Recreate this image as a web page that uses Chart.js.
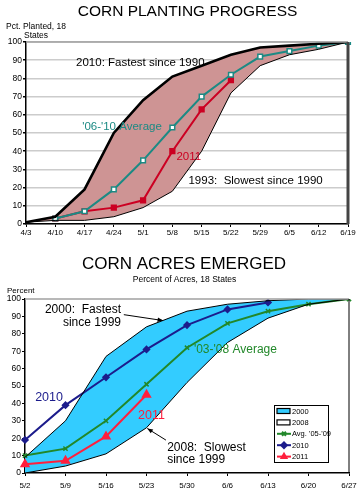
<!DOCTYPE html>
<html>
<head>
<meta charset="utf-8">
<script src="https://cdn.jsdelivr.net/npm/chart.js@4.4.1/dist/chart.umd.min.js"></script>
<style>
  html, body { margin: 0; padding: 0; background: #fff; }
  canvas { position: absolute; left: 0; }
  #planting { top: 0; }
  #emerged { top: 246px; }
</style>
</head>
<body>
<canvas id="planting" width="363" height="245"></canvas>
<canvas id="emerged" width="363" height="246"></canvas>
<script>
// Corn planting progress, pct planted, 18 states
const plantWeeks  = ['4/3', '4/10', '4/17', '4/24', '5/1', '5/8', '5/15', '5/22', '5/29', '6/5', '6/12', '6/19'];
const planted2010 = [1, 4, 19, 50, 68, 81, 87, 93, 97, 98, 99, 100];
const planted1993 = [1, 2, 2, 4, 9, 18, 40, 72, 87, 93, 96, 100];
const plantedAvg  = [null, 3, 7, 19, 35, 53, 70, 82, 92, 95, 98, 100];
const planted2011 = [null, 3, 7, 9, 13, 40, 63, 79, null, null, null, null];

// Corn acres emerged, percent of acres, 18 states
const emergeWeeks = ['5/2', '5/9', '5/16', '5/23', '5/30', '6/6', '6/13', '6/20', '6/27'];
const emerged2000 = [9, 30, 67, 84, 93, 97, 99, 100, 100];
const emerged2008 = [0, 4, 11, 26, 52, 75, 89, 97, 100];
const emergedAvg  = [10, 14, 30, 51, 72, 86, 93, 97, 100];
const emerged2010 = [19, 39, 55, 71, 85, 94, 98, null, null];
const emerged2011 = [5, 7, 21, 45, null, null, null, null, null];

const FONT = '"Liberation Sans", Arial, sans-serif';
const TEAL = '#1c8a84', RED1 = '#cc0022', PINK = '#ce9494';
const CYAN = '#33ccff', NAVY = '#1c1c8c', GREEN = '#22882a', RED2 = '#ff1f3d';

// text labels: x = category index (can be fractional), y = percent
const plantNotes = [
  { text: '2010: Fastest since 1990', x: 1.71, y: 88.5, size: 11.5, color: '#000' },
  { text: "'06-'10 Average", x: 1.92, y: 53.3, size: 11.5, color: TEAL },
  { text: '2011', x: 5.14, y: 36.8, size: 11.5, color: RED1 },
  { text: '1993:  Slowest since 1990', x: 5.55, y: 23.6, size: 11.5, color: '#000' }
];
const emergeNotes = [
  { text: '2000:  Fastest', x: 2.37, y: 93.9, size: 12, color: '#000', align: 'right' },
  { text: 'since 1999', x: 2.37, y: 86.4, size: 12, color: '#000', align: 'right' },
  { text: "'03-'08 Average", x: 4.17, y: 70.8, size: 12, color: GREEN },
  { text: '2010', x: 0.25, y: 43.1, size: 12.5, color: NAVY },
  { text: '2011', x: 2.79, y: 33.3, size: 12.5, color: RED2 },
  { text: '2008:  Slowest', x: 3.51, y: 14.8, size: 12, color: '#000' },
  { text: 'since 1999', x: 3.51, y: 7.9, size: 12, color: '#000' }
];
const emergeArrows = [
  { from: [2.44, 91], to: [3.41, 87.6] },
  { from: [3.48, 18.9], to: [3.02, 25.6] }
];

function arrow(ctx, x1, y1, x2, y2) {
  const ang = Math.atan2(y2 - y1, x2 - x1);
  ctx.beginPath();
  ctx.moveTo(x1, y1);
  ctx.lineTo(x2, y2);
  ctx.stroke();
  ctx.beginPath();
  ctx.moveTo(x2, y2);
  ctx.lineTo(x2 - 6 * Math.cos(ang - 0.4), y2 - 6 * Math.sin(ang - 0.4));
  ctx.lineTo(x2 - 6 * Math.cos(ang + 0.4), y2 - 6 * Math.sin(ang + 0.4));
  ctx.closePath();
  ctx.fill();
}

const decor = {
  id: 'decor',
  afterDraw(chart, args, o) {
    const { ctx, chartArea: a, scales: { x, y } } = chart;
    ctx.save();
    ctx.textBaseline = 'middle';
    (o.fixed || []).forEach(t => {
      ctx.font = `${t.size}px ${FONT}`;
      ctx.fillStyle = '#000';
      ctx.textAlign = t.align || 'center';
      ctx.fillText(t.text, t.px, t.py);
    });
    (o.notes || []).forEach(t => {
      ctx.font = `${t.size}px ${FONT}`;
      ctx.fillStyle = t.color;
      ctx.textAlign = t.align || 'left';
      ctx.fillText(t.text, x.getPixelForValue(t.x), y.getPixelForValue(t.y));
    });
    ctx.strokeStyle = '#000';
    ctx.fillStyle = '#000';
    ctx.lineWidth = 1;
    (o.arrows || []).forEach(r => {
      arrow(ctx, x.getPixelForValue(r.from[0]), y.getPixelForValue(r.from[1]),
                 x.getPixelForValue(r.to[0]), y.getPixelForValue(r.to[1]));
    });
    // top border and right border
    ctx.strokeStyle = '#a0a0a0';
    ctx.lineWidth = 1.5;
    ctx.beginPath();
    ctx.moveTo(a.left, a.top);
    ctx.lineTo(a.right, a.top);
    ctx.stroke();
    ctx.strokeStyle = o.rightColor;
    ctx.lineWidth = o.rightWidth;
    ctx.beginPath();
    ctx.moveTo(a.right, a.top);
    ctx.lineTo(a.right, a.bottom);
    ctx.stroke();

    if (o.legend) {
      const L = o.legend;
      ctx.fillStyle = '#fff';
      ctx.fillRect(L.x, L.y, L.w, L.h);
      ctx.strokeStyle = '#000';
      ctx.lineWidth = 1;
      ctx.strokeRect(L.x + 0.5, L.y + 0.5, L.w, L.h);
      ctx.font = `7.5px ${FONT}`;
      ctx.textAlign = 'left';
      chart.data.datasets.forEach((ds, i) => {
        const cy = L.y + 6 + i * 11.4;
        const sx = L.x + 3;
        if (ds.fill !== false && i === 0 || ds.isBand) {
          ctx.fillStyle = ds.isBand ? '#fff' : ds.backgroundColor;
          ctx.fillRect(sx, cy - 2.5, 13, 5);
          ctx.strokeStyle = '#000';
          ctx.lineWidth = 1.2;
          ctx.strokeRect(sx, cy - 2.5, 13, 5);
        } else {
          ctx.strokeStyle = ds.borderColor;
          ctx.fillStyle = ds.borderColor;
          ctx.lineWidth = 2;
          ctx.beginPath();
          ctx.moveTo(sx, cy);
          ctx.lineTo(sx + 14, cy);
          ctx.stroke();
          Chart.helpers.drawPoint(ctx, {
            pointStyle: ds.pointStyle, radius: 2.8, borderWidth: 1.5, rotation: 0
          }, sx + 7, cy);
        }
        ctx.fillStyle = '#000';
        ctx.fillText(ds.label, sx + 15, cy + 0.5);
      });
    }
    ctx.restore();
  }
};

function yAxis(grid, width) {
  return {
    min: 0, max: 100,
    afterFit: s => { s.width = width; },
    ticks: { stepSize: 10, color: '#000', padding: 1, font: { family: FONT, size: 8.5 } },
    border: { color: '#000', width: 1.5 },
    grid: grid
  };
}
function xAxis(height, pad) {
  return {
    type: 'category', offset: false,
    afterFit: s => { s.height = height; },
    ticks: { autoSkip: false, maxRotation: 0, color: '#000', padding: pad, font: { family: FONT, size: 8 } },
    border: { color: '#000', width: 1.5 },
    grid: { drawOnChartArea: false, tickLength: 3, tickColor: '#000' }
  };
}

new Chart(document.getElementById('planting'), {
  type: 'line',
  data: {
    labels: plantWeeks,
    datasets: [
      { label: '2010', data: planted2010, borderColor: '#000', borderWidth: 2.6, pointRadius: 0,
        fill: 1, backgroundColor: PINK },
      { label: '1993', data: planted1993, borderColor: '#000', borderWidth: 1, pointRadius: 0, fill: false },
      { label: "'06-'10 Avg", data: plantedAvg, borderColor: TEAL, borderWidth: 2, fill: false,
        pointStyle: 'rect', pointRadius: 3.3, pointBackgroundColor: '#fff', pointBorderColor: TEAL, pointBorderWidth: 1.5 },
      { label: '2011', data: planted2011, borderColor: RED1, borderWidth: 2, fill: false,
        pointStyle: 'rect', pointRadius: 3, pointBackgroundColor: RED1, pointBorderColor: RED1 }
    ]
  },
  options: {
    responsive: false, animation: false,
    layout: { padding: { top: 42, right: 15, left: 0, bottom: 0 } },
    elements: { line: { tension: 0 } },
    plugins: {
      legend: { display: false }, tooltip: { enabled: false },
      filler: { drawTime: 'beforeDatasetsDraw' },
      decor: {
        fixed: [
          { text: 'CORN PLANTING PROGRESS', px: 187.5, py: 11.5, size: 15.5 },
          { text: 'Pct. Planted, 18', px: 6, py: 26.5, size: 8.5, align: 'left' },
          { text: 'States', px: 24, py: 36, size: 8.5, align: 'left' }
        ],
        notes: plantNotes,
        rightColor: '#444', rightWidth: 3
      }
    },
    scales: {
      x: xAxis(21, 1),
      y: yAxis({ color: '#cccccc', lineWidth: 1.5, tickLength: 3, tickColor: '#000' }, 26)
    }
  },
  plugins: [decor]
});

new Chart(document.getElementById('emerged'), {
  type: 'line',
  data: {
    labels: emergeWeeks,
    datasets: [
      { label: '2000', data: emerged2000, borderColor: '#000', borderWidth: 1, pointRadius: 0,
        fill: 1, backgroundColor: CYAN },
      { label: '2008', data: emerged2008, borderColor: '#000', borderWidth: 1, pointRadius: 0, fill: false, isBand: true },
      { label: "Avg. '05-'09", data: emergedAvg, borderColor: GREEN, borderWidth: 2, fill: false,
        pointStyle: 'crossRot', pointRadius: 3, pointBorderColor: GREEN, pointBorderWidth: 1.5 },
      { label: '2010', data: emerged2010, borderColor: NAVY, borderWidth: 2, fill: false,
        pointStyle: 'rectRot', pointRadius: 2.7, pointBackgroundColor: NAVY, pointBorderColor: NAVY },
      { label: '2011', data: emerged2011, borderColor: RED2, borderWidth: 2, fill: false,
        pointStyle: 'triangle', pointRadius: 4, pointBackgroundColor: RED2, pointBorderColor: RED2 }
    ]
  },
  options: {
    responsive: false, animation: false,
    layout: { padding: { top: 53, right: 14, left: 0, bottom: 0 } },
    elements: { line: { tension: 0 } },
    plugins: {
      legend: { display: false }, tooltip: { enabled: false },
      filler: { drawTime: 'beforeDatasetsDraw' },
      decor: {
        fixed: [
          { text: 'CORN ACRES EMERGED', px: 184, py: 18.5, size: 17 },
          { text: 'Percent of Acres, 18 States', px: 184.5, py: 33.5, size: 8.5 },
          { text: 'Percent', px: 7, py: 45, size: 8, align: 'left' }
        ],
        notes: emergeNotes,
        arrows: emergeArrows,
        rightColor: '#000', rightWidth: 1,
        legend: { x: 274, y: 159, w: 54, h: 57 }
      }
    },
    scales: {
      x: xAxis(19, 5),
      y: yAxis({ drawOnChartArea: false, tickLength: 3, tickColor: '#000' }, 25)
    }
  },
  plugins: [decor]
});
</script>
</body>
</html>
